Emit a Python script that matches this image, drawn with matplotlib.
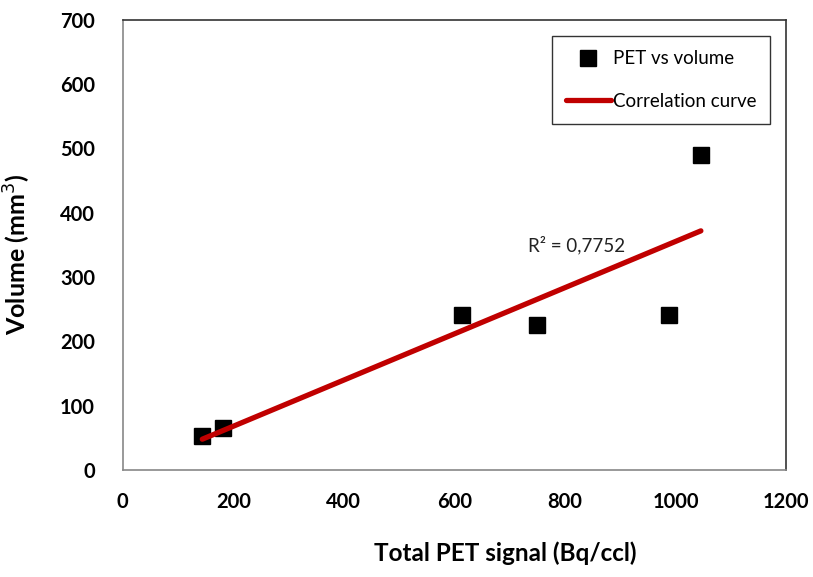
import numpy as np
import matplotlib
matplotlib.use("Agg")
import matplotlib.pyplot as plt

plt.rcParams['font.family'] = ['Lato', 'DejaVu Sans']

pet_signal = [144, 182, 614, 750, 989, 1046]
volume = [53, 65, 241, 225, 241, 489]
x_ticks = [0, 200, 400, 600, 800, 1000, 1200]
y_ticks = [0, 100, 200, 300, 400, 500, 600, 700]
r2_label = "R² = 0,7752"

fig = plt.figure(figsize=(8.13, 5.77), dpi=100)
ax = fig.add_axes([122.7/813, 1 - 470/577, (786 - 122.7)/813, (470 - 19.5)/577])

ax.plot(pet_signal, volume, linestyle='none', marker='s', markersize=11.5,
        color='black', label='PET vs volume', zorder=3)

slope, intercept = np.polyfit(pet_signal, volume, 1)
xs = np.array([min(pet_signal), max(pet_signal)])
ax.plot(xs, slope * xs + intercept, color='#C00000', linewidth=3.8,
        solid_capstyle='round', label='Correlation curve', zorder=4)

ax.text(733, 350, r2_label, fontsize=13.5, va='center', ha='left', color='#222222')

ax.set_xlim(0, 1200)
ax.set_ylim(0, 700)
ax.set_xticks(x_ticks)
ax.set_yticks(y_ticks)
ax.tick_params(length=0, labelsize=14.5)
for lab in ax.get_xticklabels() + ax.get_yticklabels():
    lab.set_fontweight('bold')
ax.tick_params(axis='x', pad=16)
ax.tick_params(axis='y', pad=20)

for s in ['left', 'bottom']:
    ax.spines[s].set_color('#888888')
    ax.spines[s].set_linewidth(1.2)
for s in ['top', 'right']:
    ax.spines[s].set_color('#333333')
    ax.spines[s].set_linewidth(1.2)

ax.set_xlabel('Total PET signal (Bq/ccl)', fontsize=17.5, fontweight='bold')
ax.xaxis.set_label_coords(0.576, -0.158)
ax.set_ylabel('Volume (mm$^3$)', fontsize=18, fontweight='bold')
ax.yaxis.set_label_coords(-0.135, 0.478)

leg = ax.legend(loc='upper right', bbox_to_anchor=(0.976, 0.963), borderaxespad=0,
                fancybox=False, edgecolor='black', fontsize=13.5, handlelength=2.4,
                handletextpad=0.1, labelspacing=1.35, borderpad=0.75, markerscale=0.95)
leg.get_frame().set_linewidth(1.0)

fig.savefig('out.png', dpi=100)
